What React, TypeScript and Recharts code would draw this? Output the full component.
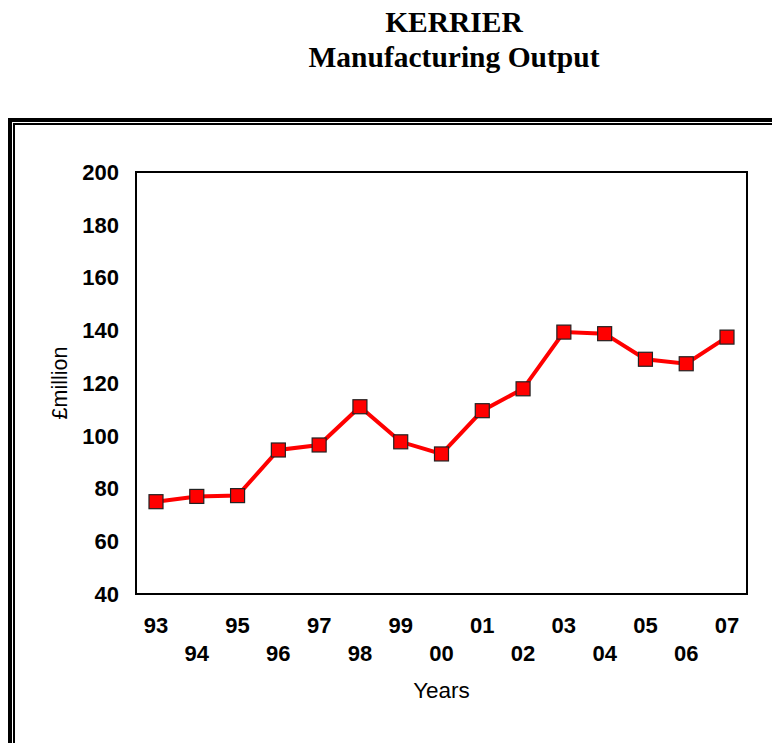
import { LineChart, Line, XAxis, YAxis, ReferenceArea } from 'recharts';

const years = ['93', '94', '95', '96', '97', '98', '99', '00', '01', '02', '03', '04', '05', '06', '07'];
const output = [75, 77, 77.3, 94.6, 96.5, 111, 97.7, 93.1, 109.5, 117.8, 139.3, 138.7, 129, 127.3, 137.4];
const yTicks = [40, 60, 80, 100, 120, 140, 160, 180, 200];

const data = years.map((year, i) => ({ year, value: output[i] }));
const lastIndex = years.length - 1;

const sans = '"Liberation Sans", Arial, sans-serif';

function YearTick({ x, y, payload, index }: any) {
  const shift = index % 2 === 1 ? 28 : 0;
  return (
    <text
      x={x}
      y={y + shift}
      dy="0.71em"
      textAnchor="middle"
      fontFamily={sans}
      fontWeight="bold"
      fontSize={22}
      fill="#000"
    >
      {payload.value}
    </text>
  );
}

function SquareDot({ cx, cy, index }: any) {
  if (cx == null || cy == null) return null;
  const s = 14;
  return (
    <rect
      key={index}
      x={cx - s / 2}
      y={cy - s / 2}
      width={s}
      height={s}
      fill="#ff0000"
      stroke="#222"
      strokeWidth={1.2}
    />
  );
}

export default function App() {
  return (
    <div style={{ position: 'fixed', left: 0, top: 0, width: 772, height: 743, background: '#fff', overflow: 'hidden' }}>
      <div
        style={{
          position: 'absolute',
          left: 0,
          top: 5,
          width: 908,
          textAlign: 'center',
          fontFamily: '"Liberation Serif", "Times New Roman", serif',
          fontWeight: 'bold',
          fontSize: 29.5,
          lineHeight: '35px',
        }}
      >
        <div>KERRIER</div>
        <div>Manufacturing Output</div>
      </div>
      {/* double frame */}
      <div style={{ position: 'absolute', left: 8, top: 118, width: 900, height: 900, borderLeft: '4px solid #000', borderTop: '4px solid #000' }} />
      <div style={{ position: 'absolute', left: 13, top: 123, width: 900, height: 900, borderLeft: '2px solid #000', borderTop: '2px solid #000' }} />

      <div style={{ position: 'absolute', left: 0, top: 0 }}>
        <LineChart width={772} height={743} data={data} margin={{ top: 172, right: 25, bottom: 39, left: 56 }}>
          <XAxis
            dataKey="year"
            padding={{ left: 20, right: 20 }}
            axisLine={false}
            tickLine={false}
            tickMargin={17}
            interval={0}
            tick={<YearTick />}
            height={110}
            label={{ value: 'Years', position: 'insideBottom', offset: 6, fontFamily: sans, fontSize: 22.5, fill: '#000' }}
          />
          {/* index axis without padding: spans the whole plot width, used only for the frame */}
          <XAxis xAxisId="frame" type="number" domain={[0, lastIndex]} hide />
          <YAxis
            domain={[40, 200]}
            ticks={yTicks}
            interval={0}
            width={80}
            axisLine={false}
            tickLine={false}
            tickMargin={11}
            tick={{ fontFamily: sans, fontWeight: 'bold', fontSize: 22, fill: '#000' }}
            label={{
              value: '£million',
              angle: -90,
              position: 'insideLeft',
              offset: 3,
              style: { textAnchor: 'middle', fontFamily: sans, fontSize: 21.5, fill: '#000' },
            }}
          />
          <ReferenceArea xAxisId="frame" x1={0} x2={lastIndex} y1={40} y2={200} fill="none" fillOpacity={0} stroke="#000" strokeWidth={2} />
          <Line
            type="linear"
            dataKey="value"
            stroke="#ff0000"
            strokeWidth={4}
            dot={<SquareDot />}
            activeDot={false}
            isAnimationActive={false}
          />
        </LineChart>
      </div>
    </div>
  );
}
